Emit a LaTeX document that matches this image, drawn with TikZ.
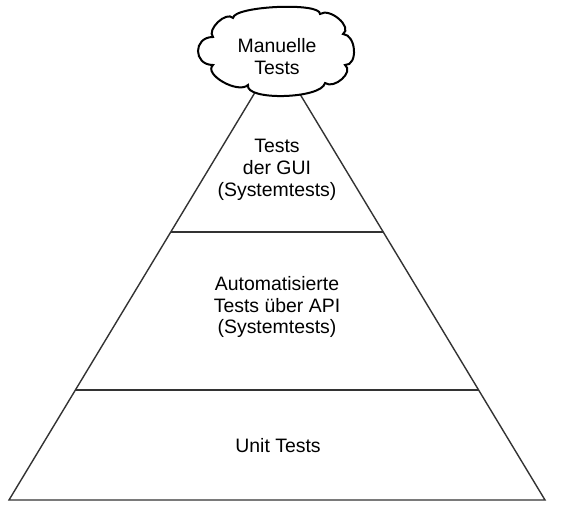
\documentclass[tikz,border=0pt]{standalone}
\usepackage{fontspec}
\setmainfont{Liberation Sans}
\begin{document}
\begin{tikzpicture}[x=1bp,y=-1bp,
  edge/.style={draw=black!80,line width=1.4bp},
  cloudline/.style={draw=black,line width=2bp,fill=white,line join=miter},
  lbl/.style={align=center,inner sep=0pt,font=\fontsize{19.5}{22}\selectfont}]
\useasboundingbox[fill=white] (0,0) rectangle (564,520);
% pyramid
\coordinate (apex) at (277,56);
\coordinate (bl) at (9,500);
\coordinate (br) at (545,500);
\coordinate (l1) at (171,232);
\coordinate (r1) at (383,232);
\coordinate (l2) at (75.5,390);
\coordinate (r2) at (478.5,390);
\draw[edge,line join=miter] (apex) -- (bl) -- (br) -- cycle;
\draw[edge] (l1) -- (r1);
\draw[edge] (l2) -- (r2);
% cloud
\path[cloudline] (233,18)
 .. controls (233.7,6) and (320.7,2) .. (320,14)
 .. controls (330,7.3) and (353,27.3) .. (343,34)
 .. controls (356.3,34.7) and (358.3,65.7) .. (345,65)
 .. controls (354.3,71.7) and (334.3,89.7) .. (325,83)
 .. controls (321.7,99) and (244.7,101) .. (248,85)
 .. controls (238,94.3) and (203,74.3) .. (213,65)
 .. controls (193,65) and (193,37) .. (213,37)
 .. controls (206.3,29.7) and (226.3,10.7) .. (233,18) -- cycle;
\node[lbl] (manuell) at (277,57) {Manuelle\\Tests};
\node[lbl] (gui) at (277,170) {Tests\\der GUI\\(Systemtests)};
\node[lbl] (api) at (277,307) {Automatisierte\\Tests über API\\(Systemtests)};
\node[lbl] (unit) at (278,446) {Unit Tests};
\end{tikzpicture}
\end{document}
